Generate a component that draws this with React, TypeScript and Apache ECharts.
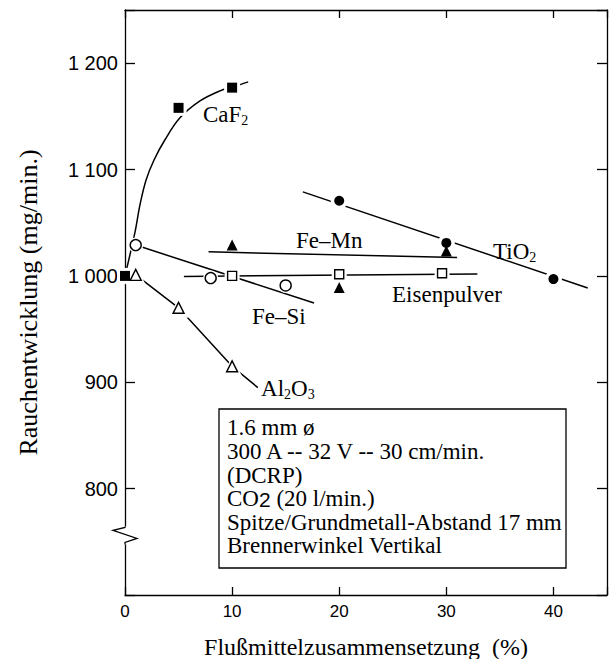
import React, { useEffect, useRef } from "react";
import * as echarts from "echarts";

// ---- data ----
const X_MIN = 0;
const X_MAX = 45;
const X_INTERVAL = 10;
const Y_MIN = 700;
const Y_MAX = 1250;
const Y_INTERVAL = 100;
const xTickValues = [0, 10, 20, 30, 40];
const yTickValues = [800, 900, 1000, 1100, 1200];
const yBreakValue = 756;

// CaF2 (filled squares) and its fitted curve
const caf2Points = [[0, 1000], [5, 1158], [10, 1177]];
const caf2Curve = [
  [0, 1000], [0.93, 1041], [1.4, 1067], [1.96, 1090], [2.71, 1109], [3.73, 1128],
  [5.13, 1148.6], [7.0, 1164.5], [8.87, 1174], [10.08, 1177.7], [11.5, 1182.4],
];
// Fe-Si (open circles)
const feSiPoints = [[1, 1029], [8, 998], [15, 991]];
const feSiLine = [[1, 1029], [17.65, 974.5]];
// Al2O3 (open triangles)
const al2o3Points = [[1, 1001], [5, 970], [10, 915]];
const al2o3Line = [[1, 1001], [5, 970], [10, 915], [12.4, 895]];
// TiO2 (filled circles)
const tio2Points = [[20, 1070.7], [30, 1031], [40, 997]];
const tio2Line = [[16.6, 1079], [43.2, 988.7]];
// Fe-Mn (filled triangles)
const feMnPoints = [[10, 1029], [20, 989], [30, 1023.5]];
const feMnLine = [[7.8, 1022.6], [31, 1017.3]];
// Eisenpulver (open squares)
const eisenPoints = [[10, 1000], [20, 1001.5], [29.6, 1002.5]];
const eisenLine = [[5.5, 999.5], [32.9, 1001.8]];

// curve labels: [x, y, text] (left edge / vertical centre, in data units)
const curveLabels: [number, number, string][] = [
  [7.28, 1151.4, "CaF{s|2}"],
  [15.96, 1032.9, "Fe–Mn"],
  [34.36, 1022.6, "TiO{s|2}"],
  [24.93, 982.1, "Eisenpulver"],
  [11.86, 961.5, "Fe–Si"],
  [12.7, 893.8, "Al{s|2}O{s|3}"],
];

const boxLines = [
  "1.6 mm ø",
  "300 A -- 32 V -- 30 cm/min.",
  "(DCRP)",
  "CO{s2|2} (20 l/min.)",
  "Spitze/Grundmetall-Abstand 17 mm",
  "Brennerwinkel Vertikal",
];

const X_NAME = "Flußmittelzusammensetzung  (%)";
const Y_NAME = "Rauchentwicklung (mg/min.)";

const SERIF = "'Liberation Serif', 'Times New Roman', serif";
const SANS = "'Liberation Sans', Arial, sans-serif";

export default function App() {
  const ref = useRef<HTMLDivElement>(null);
  useEffect(() => {
    if (!ref.current) return;
    const chart = echarts.init(ref.current, undefined, { renderer: "svg" });

    const lineSeries = (data: number[][], smooth = false) => ({
      type: "line",
      data,
      smooth: smooth ? 0.35 : false,
      showSymbol: false,
      symbol: "none",
      silent: true,
      lineStyle: { color: "#000", width: 1.5 },
      z: 2,
    });
    const halo = (data: number[][], symbol: string, size: number) => ({
      type: "scatter",
      data,
      symbol,
      symbolSize: size,
      silent: true,
      itemStyle: { color: "#fff", borderWidth: 0, opacity: 1 },
      z: 3,
    });
    const marker = (data: number[][], symbol: string, size: number, filled: boolean) => ({
      type: "scatter",
      data,
      symbol,
      symbolSize: size,
      silent: true,
      itemStyle: filled
        ? { color: "#000", borderWidth: 0, opacity: 1 }
        : { color: "#fff", borderColor: "#000", borderWidth: 1.4, opacity: 1 },
      z: 4,
    });

    const axisCommon = {
      min: X_MIN,
      max: X_MAX,
      interval: X_INTERVAL,
      splitLine: { show: false },
      axisLine: { show: true, onZero: false, lineStyle: { color: "#000", width: 1.3 } },
      axisTick: { show: true, inside: true, length: 8, lineStyle: { color: "#000", width: 1.3 } },
    };
    const yCommon = {
      min: Y_MIN,
      max: Y_MAX,
      interval: Y_INTERVAL,
      splitLine: { show: false },
      axisLine: { show: true, onZero: false, lineStyle: { color: "#000", width: 1.3 } },
      axisTick: { show: true, inside: true, length: 10, lineStyle: { color: "#000", width: 1.3 } },
    };

    chart.setOption({
      animation: false,
      backgroundColor: "#fff",
      grid: {
        left: 125,
        top: 10,
        right: 8,
        bottom: 64,
        containLabel: false,
        outerBoundsMode: "none",
      },
      xAxis: [
        {
          type: "value",
          position: "bottom",
          ...axisCommon,
          axisLabel: {
            color: "#000",
            fontFamily: SANS,
            fontSize: 17,
            margin: 8,
            formatter: (v: number) => (xTickValues.includes(v) ? String(v) : ""),
          },
          name: X_NAME,
          nameLocation: "middle",
          nameGap: 40,
          nameTextStyle: { color: "#000", fontFamily: SERIF, fontSize: 24 },
        },
        {
          type: "value",
          position: "top",
          ...axisCommon,
          axisLabel: { show: false },
        },
      ],
      yAxis: [
        {
          type: "value",
          position: "left",
          ...yCommon,
          axisLabel: {
            color: "#000",
            fontFamily: SANS,
            fontSize: 20,
            margin: 7,
            formatter: (v: number) => {
              if (!yTickValues.includes(v)) return "";
              if (v >= 1000) return `${Math.floor(v / 1000)} ${String(v % 1000).padStart(3, "0")}`;
              return String(v);
            },
          },
          name: Y_NAME,
          nameLocation: "middle",
          nameGap: 84,
          nameRotate: 90,
          nameTextStyle: { color: "#000", fontFamily: SERIF, fontSize: 26 },
        },
        {
          type: "value",
          position: "right",
          ...yCommon,
          axisLabel: { show: false },
        },
      ],
      series: [
        lineSeries(caf2Curve, true),
        lineSeries(feSiLine),
        lineSeries(al2o3Line),
        lineSeries(tio2Line),
        lineSeries(feMnLine),
        lineSeries(eisenLine),
        halo(caf2Points, "rect", 16),
        halo(feSiPoints, "circle", 15),
        halo(al2o3Points, "triangle", 20),
        halo(tio2Points, "circle", 17),
        halo(eisenPoints, "rect", 15),
        marker(caf2Points, "rect", 10, true),
        marker(feSiPoints, "circle", 11, false),
        marker(al2o3Points, "triangle", 11, false),
        marker(tio2Points, "circle", 10, true),
        marker(feMnPoints, "triangle", 11, true),
        marker(eisenPoints, "rect", 9, false),
      ],
    });

    const bp = chart.convertToPixel({ gridIndex: 0 }, [0, yBreakValue]) as number[];
    const bx = bp[0];
    const by = bp[1];

    const labelGraphics = curveLabels.map(([x, y, t]) => {
      const p = chart.convertToPixel({ gridIndex: 0 }, [x, y]) as number[];
      return {
        type: "text",
        z: 40,
        x: p[0],
        y: p[1],
        silent: true,
        style: {
          text: t,
          fill: "#000",
          fontFamily: SERIF,
          fontSize: 23,
          lineHeight: 26,
          align: "left",
          verticalAlign: "middle",
          rich: {
            s: {
              fontFamily: SERIF,
              fontSize: 14,
              lineHeight: 12,
              verticalAlign: "bottom",
              fill: "#000",
            },
          },
        },
      };
    });

    chart.setOption({
      graphic: [
        ...labelGraphics,
        {
          type: "rect",
          z: 50,
          shape: { x: bx - 3, y: by - 9, width: 6, height: 18 },
          style: { fill: "#fff", stroke: null },
          silent: true,
        },
        {
          type: "polyline",
          z: 51,
          shape: {
            points: [
              [bx, by - 9],
              [bx, by - 8],
              [bx - 12, by - 5],
              [bx + 12, by + 3],
              [bx, by + 7],
              [bx, by + 9],
            ],
          },
          style: { fill: null, stroke: "#000", lineWidth: 1.3 },
          silent: true,
        },
        {
          type: "rect",
          z: 60,
          shape: { x: 219, y: 409, width: 347, height: 159 },
          style: { fill: "#fff", stroke: "#000", lineWidth: 1.3 },
          silent: true,
        },
        {
          type: "text",
          z: 61,
          x: 227,
          y: 416,
          silent: true,
          style: {
            text: boxLines.join("\n"),
            fill: "#000",
            fontFamily: SERIF,
            fontSize: 23,
            lineHeight: 23.6,
            rich: {
              s2: {
                fontFamily: SANS,
                fontSize: 21,
                lineHeight: 14,
                verticalAlign: "bottom",
                fill: "#000",
              },
            },
          },
        },
      ],
    });

    return () => chart.dispose();
  }, []);

  return (
    <div
      ref={ref}
      style={{ position: "fixed", left: 0, top: 0, width: 615, height: 659, background: "#fff" }}
    />
  );
}
